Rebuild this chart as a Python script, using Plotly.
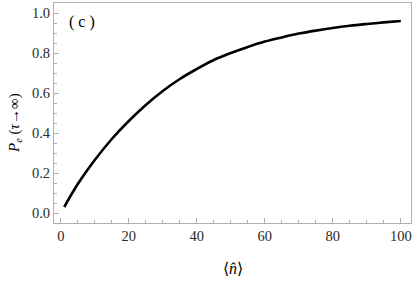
import plotly.graph_objects as go

n_vals = [1, 5, 10, 15, 20, 25, 30, 35, 40, 45, 50, 55, 60, 65, 70, 75, 80, 85, 90, 95, 100]
p_vals = [0.03, 0.145, 0.265, 0.37, 0.46, 0.54, 0.61, 0.67, 0.72, 0.765, 0.80, 0.83, 0.857,
          0.878, 0.897, 0.912, 0.925, 0.936, 0.945, 0.953, 0.96]
x_ticks = [0, 20, 40, 60, 80, 100]
y_ticks = [0.0, 0.2, 0.4, 0.6, 0.8, 1.0]
y_ticklabels = ["0.0", "0.2", "0.4", "0.6", "0.8", "1.0"]

fig = go.Figure()
fig.add_trace(go.Scatter(x=n_vals, y=p_vals, mode="lines",
                         line=dict(color="black", width=2.6, shape="spline", smoothing=1.0)))

serif = "Liberation Serif"
axis_common = dict(showline=True, linecolor="#b0b0b0", linewidth=1, mirror=True,
                   showgrid=False, zeroline=False, ticks="inside", ticklen=5,
                   tickcolor="#b0b0b0", ticklabeloverflow="allow",
                   tickfont=dict(family=serif, size=14.5, color="#2a2a2a"))

W, H = 415, 281
l, r, t, b = 54, 4, 3, 58
pw, ph = W - l - r, H - t - b

def px(xp):
    return (xp - l) / pw

def py(yp):
    return 1 - (yp - t) / ph

fig.update_layout(
    width=W, height=H,
    margin=dict(l=l, r=r, t=t, b=b),
    paper_bgcolor="white", plot_bgcolor="white",
    showlegend=False,
    font=dict(family=serif),
    xaxis=dict(range=[-2, 103], tickvals=x_ticks,
               minor=dict(dtick=5, tick0=0, ticks="inside", ticklen=3, tickcolor="#b0b0b0"),
               **axis_common),
    yaxis=dict(range=[-0.05, 1.05], tickvals=y_ticks, ticktext=y_ticklabels,
               minor=dict(dtick=0.05, tick0=0, ticks="inside", ticklen=3, tickcolor="#b0b0b0"),
               **axis_common),
    annotations=[
        dict(text="( c )", x=px(67), y=py(22), xref="paper", yref="paper", showarrow=False,
             font=dict(family=serif, size=16, color="black"), xanchor="left", yanchor="middle"),
        dict(text="⟨<i>n̂</i>⟩", x=px(233), y=py(268), xref="paper", yref="paper", showarrow=False,
             font=dict(family=serif, size=16, color="black"), xanchor="center", yanchor="middle"),
        dict(text="<i>P</i><sub><i>e</i></sub> (<i>τ</i>→∞)", x=px(15), y=py(123),
             xref="paper", yref="paper", showarrow=False,
             textangle=-90, font=dict(family=serif, size=15, color="black"),
             xanchor="center", yanchor="middle"),
    ],
)

fig.write_html("out.html", config={"displayModeBar": False},
               post_script="document.body.style.margin='0';document.body.style.padding='0';")
